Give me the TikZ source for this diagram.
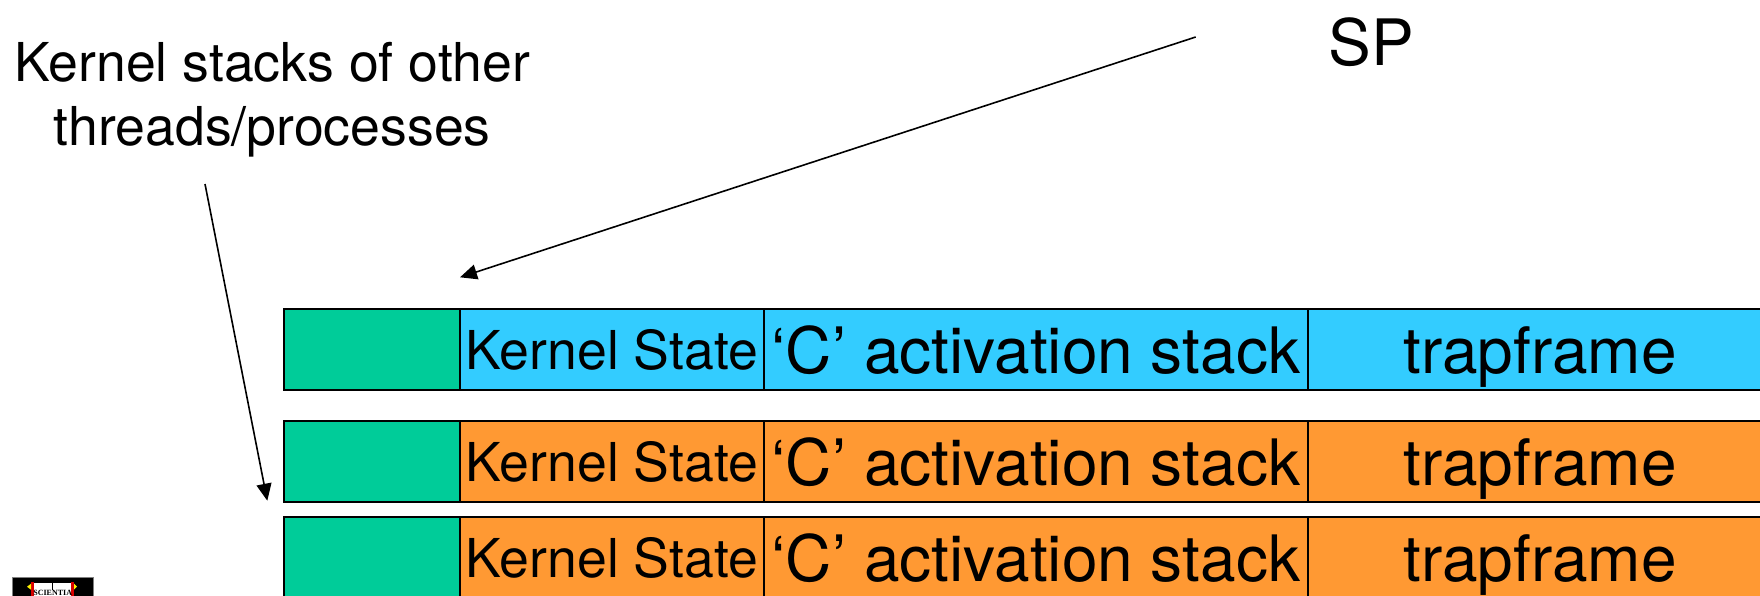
\documentclass[tikz,border=0pt]{standalone}
\usepackage{fontspec}
\setmainfont{TeX Gyre Heros}
\newfontfamily\logofont{Liberation Serif}
\usetikzlibrary{arrows.meta}
\definecolor{gr}{HTML}{00CC99}
\definecolor{bl}{HTML}{33CCFF}
\definecolor{or}{HTML}{FF9933}
\tikzset{
 x=1pt,y=-1pt,
 cellbox/.style={draw=black,line width=1.8pt,minimum height=81pt,inner sep=0pt,outer sep=0pt,anchor=north west,text=black},
 small/.style={font=\fontsize{53.6}{60}\selectfont,text height=39pt,text depth=0pt},
 big/.style={font=\fontsize{64}{70}\selectfont,text height=47pt,text depth=0pt},
 lab/.style={font=\fontsize{53.6}{64}\selectfont,align=center,inner sep=0pt},
 arr/.style={draw=black,line width=1.6pt,-{Triangle[length=17pt,width=15pt]}}
}
\newcommand{\stackrow}[3]{%
 \node[cellbox,fill=gr,minimum width=175.7pt] (#1a) at (284,#2) {};
 \node[cellbox,fill=#3,minimum width=304.3pt,small] (#1b) at (459.7,#2) {Kernel State};
 \node[cellbox,fill=#3,minimum width=544pt,big] (#1c) at (764,#2) {‘C’ activation stack};
 \node[cellbox,fill=#3,minimum width=464pt,big] (#1d) at (1308,#2) {trapframe};
}
\begin{document}
\begin{tikzpicture}
\useasboundingbox (0,0) rectangle (1760,595);
\begin{scope}
\clip (0,0) rectangle (1760,595);
\stackrow{r}{309}{bl}
\stackrow{s}{421}{or}
\stackrow{t}{517}{or}
\node[fill=black,draw=gray,line width=0.5pt,inner sep=0pt,minimum width=81.5pt,minimum height=30pt,anchor=north west] (logo) at (11.5,576.7) {};
\fill[white] (34,583) rectangle (72,600);
\draw[black,line width=0.5pt] (52.7,583) -- (52.7,590);
\fill[red!85!black] (31,581.7) rectangle (34,600);
\fill[red!85!black] (71,581.7) rectangle (74,600);
\fill[yellow] (31,583.7) -- (27,586.7) -- (31,589.7) -- cycle;
\fill[yellow] (74,583.7) -- (77,586.7) -- (74,589.7) -- cycle;
\node[font=\logofont\bfseries\fontsize{8}{8}\selectfont,inner sep=0pt,text=black] (scientia) at (52.7,592.5) {SCIENTIA};
\end{scope}
\node[lab] (kern) at (272.3,100) {Kernel stacks of other\\threads/processes};
\node[font=\fontsize{64}{70}\selectfont,inner sep=0pt] (sp) at (1371.5,42) {SP};
\coordinate (a1) at (1195.7,37);
\coordinate (a2) at (460,277.3);
\coordinate (b1) at (205,184);
\coordinate (b2) at (267.3,500.7);
\draw[arr] (a1) -- (a2);
\draw[arr] (b1) -- (b2);
\end{tikzpicture}
\end{document}
